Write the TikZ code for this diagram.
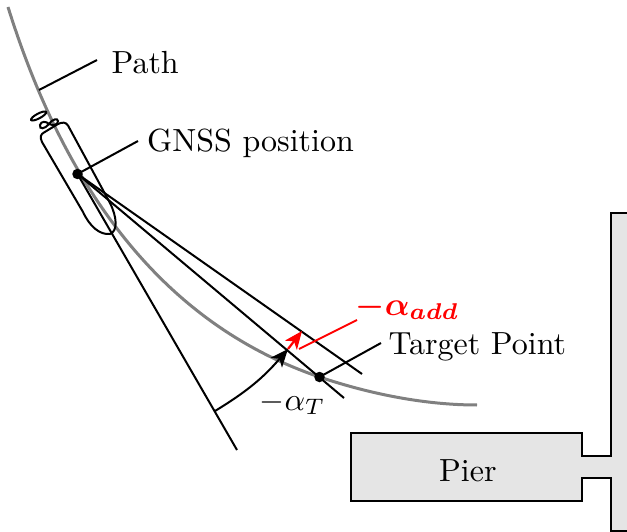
\documentclass[tikz,border=0pt]{standalone}
\usepackage{amsmath,bm}
\usetikzlibrary{arrows.meta}
\tikzset{
  line/.style={draw=black,line width=2pt},
  lab/.style={inner sep=0pt,scale=3.2,anchor=base west},
  tip/.style={-{Stealth[length=18pt,width=15pt,inset=5pt]}},
  dot/.style={circle,fill=black,inner sep=0pt,minimum size=10.5pt},
  pier/.style={draw=black,line width=2pt,fill=black!10,line join=miter}
}
\begin{document}
\begin{tikzpicture}[x=1pt,y=-1pt]
\useasboundingbox (0,0) rectangle (627,532);
% pier
\path[pier] (628,531) -- (611,531) -- (611,478) -- (582,478) -- (582,501) -- (351,501) -- (351,433) -- (582,433) -- (582,456) -- (611,456) -- (611,213) -- (628,213);
% path
\draw[draw=black!50,line width=3pt] (8,7) .. controls (68,199) and (169.5,326) .. (319.5,377) .. controls (370,394) and (425,405) .. (477,405);
% named points
\node[dot] (gnss) at (77.5,174) {};
\node[dot] (target) at (319.5,377) {};
\coordinate (tang) at (237,450);
\coordinate (far) at (344,398);
\coordinate (add) at (362,374);
\coordinate (arcs) at (215,411);
\coordinate (arce) at (288,349);
\coordinate (rede) at (302,331);
\coordinate (pa) at (39,90);
\coordinate (pb) at (97,60);
\coordinate (gb) at (138,141);
\coordinate (tb) at (381,343);
\coordinate (ra) at (299,349);
\coordinate (rb) at (357,320);
% vessel
\draw[line] (83,212) -- (42,142) .. controls (39.5,137) and (41,134) .. (44,132.5) -- (58,124) .. controls (62,122) and (66,122) .. (68,125.5) -- (110,203) .. controls (117,217) and (118,231) .. (110,234) .. controls (100,235) and (90,227) .. (83,212);
\draw[line] (38.6,116) ellipse [x radius=8.5pt,y radius=2.4pt,rotate=28];
\draw[line] (49,124) .. controls (45,129) and (39,130) .. (40,125) .. controls (41,121) and (46,121) .. (49,124) .. controls (52,119) and (58,118) .. (58,121) .. controls (58,125) and (53,126) .. (49,124) -- cycle;
% lines
\draw[line] (gnss.center) -- (tang);
\draw[line] (gnss.center) -- (far);
\draw[line] (gnss.center) -- (add);
\draw[line] (pa) -- (pb);
\draw[line] (gnss.center) -- (gb);
\draw[line] (target.center) -- (tb);
\draw[line,tip] (arcs) to[bend right=9] (arce);
\draw[draw=red,line width=2.2pt,tip] (arce) -- (rede);
\draw[draw=red,line width=2pt] (ra) -- (rb);
% labels
\node[lab] (lpath) at (111,73.5) {Path};
\node[lab] (lgnss) at (146.5,151.5) {GNSS position};
\node[lab] (ltarget) at (388,354) {Target Point};
\node[lab] (lpier) at (438.5,481) {Pier};
\node[lab] (lalpha) at (259,410) {$-\alpha_T$};
\node[lab,text=red,scale=1.02] (ladd) at (355,315) {$\bm{-\alpha_{add}}$};
\end{tikzpicture}
\end{document}
